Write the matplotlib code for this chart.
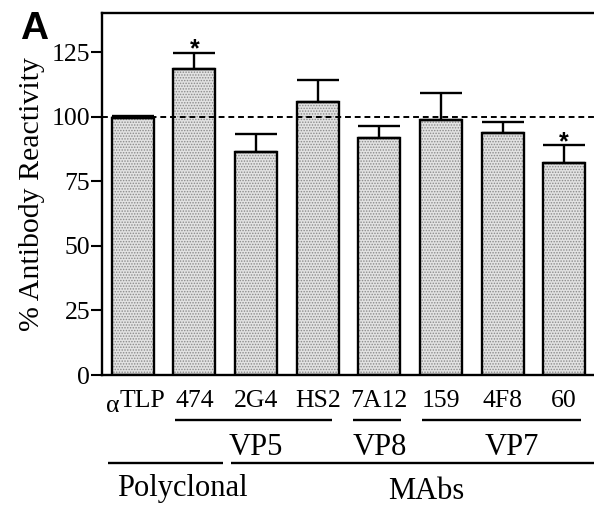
import numpy as np
import matplotlib.pyplot as plt
import matplotlib.transforms as mtransforms

plt.rcParams['font.family'] = 'serif'
plt.rcParams['font.serif'] = ['Liberation Serif', 'DejaVu Serif']
plt.rcParams['hatch.linewidth'] = 0.7

# antibody reactivity, % of control
labels = ['TLP', '474', '2G4', 'HS2', '7A12', '159', '4F8', '60']
reactivity = [99.6, 118.5, 86.2, 105.8, 91.9, 98.7, 93.8, 81.9]
sem = [0.5, 6.3, 7.0, 8.4, 4.6, 10.6, 4.1, 7.0]
significant = [False, True, False, False, False, False, False, True]

# groupings drawn under the axis: (name, line start, line end, label x)
epitopes = [('VP5', 0.69, 3.23, 2.0), ('VP8', 3.58, 4.36, 4.0),
            ('VP7', 4.69, 7.28, 6.15)]
sources = [('Polyclonal', -0.40, 1.46, 0.81), ('MAbs', 1.60, 7.6, 4.76)]

fig = plt.figure(figsize=(5.94, 5.11), dpi=100)
ax = fig.add_axes([0.1717, 0.266, 0.83, 0.708])

x = np.arange(len(labels))
w = 0.68
# stippled fill, then plain black outline on top
ax.bar(x, reactivity, w, color='#e2e2e2', edgecolor='#8a8a8a', hatch='......',
       linewidth=0, zorder=2)
ax.bar(x, reactivity, w, fill=False, edgecolor='black', linewidth=1.7, zorder=3)
ax.errorbar(x, reactivity, yerr=[np.zeros(len(sem)), sem], fmt='none',
            ecolor='black', elinewidth=1.7, capsize=15, capthick=1.7, zorder=4)
for xi, v, e, s in zip(x, reactivity, sem, significant):
    if s:
        ax.text(xi, v + e - 1.4, '*', ha='center', va='baseline', fontsize=18,
                family='Liberation Sans', fontweight='bold')

ax.axhline(100, color='black', ls=(0, (3, 2)), lw=1.4, zorder=5)

ax.set_xlim(-0.5, 7.5)
ax.set_ylim(0, 140)
ax.set_yticks([0, 25, 50, 75, 100, 125])
ax.tick_params(axis='y', direction='out', length=8, width=1.5, labelsize=18.5, pad=0.5)
ax.set_xticks([])
for sp in ['left', 'top', 'bottom']:
    ax.spines[sp].set_linewidth(1.7)
ax.spines['right'].set_visible(False)
ax.set_ylabel('% Antibody Reactivity', fontsize=21.5, labelpad=5)

trans = mtransforms.blended_transform_factory(ax.transData, ax.transAxes)

# bar labels; the first one carries a lowered alpha prefix
ax.text(-0.21, -0.0884, labels[0], transform=trans, ha='left', va='baseline',
        fontsize=18.5)
ax.text(-0.21, -0.103, 'α', transform=trans, ha='right', va='baseline',
        fontsize=18.5)
for xi, lab in zip(x[1:], labels[1:]):
    ax.text(xi, -0.0884, lab, transform=trans, ha='center', va='baseline',
            fontsize=18.5)

for name, a, b, lx in epitopes:
    ax.plot([a, b], [-0.124, -0.124], color='black', lw=1.7,
            transform=trans, clip_on=False, solid_capstyle='butt')
    ax.text(lx, -0.221, name, transform=trans, ha='center', va='baseline',
            fontsize=22)
for name, a, b, lx in sources:
    ax.plot([a, b], [-0.243, -0.243], color='black', lw=1.7,
            transform=trans, clip_on=False, solid_capstyle='butt')
    ax.text(lx, -0.334 if name == 'Polyclonal' else -0.343, name,
            transform=trans, ha='center', va='baseline', fontsize=22)

fig.text(0.034, 0.9237, 'A', fontsize=28, fontweight='bold',
         family='Liberation Sans', ha='left', va='baseline')

fig.savefig('out.png', dpi=100)
